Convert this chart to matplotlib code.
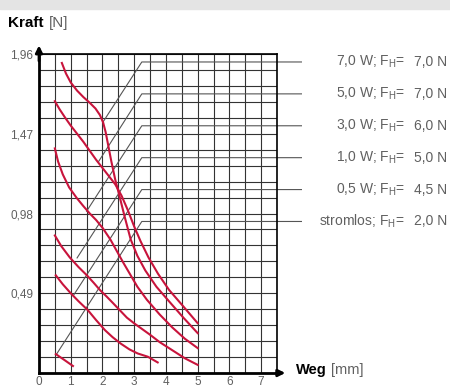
import numpy as np
import matplotlib
matplotlib.use("Agg")
import matplotlib.pyplot as plt
from matplotlib.patches import Rectangle

plt.rcParams['font.family'] = ['Liberation Sans', 'DejaVu Sans']

# force curves (Weg in mm, Kraft in N)
c7_x = [0.72, 0.85, 1.0, 1.2, 1.4, 1.6, 1.78, 1.92, 2.02, 2.1, 2.18, 2.28, 2.4, 2.52,
        2.7, 2.89, 3.1, 3.35, 3.7, 4.1, 4.55, 5.0]
c7_y = [1.905, 1.84, 1.785, 1.735, 1.695, 1.66, 1.625, 1.585, 1.54, 1.48, 1.40, 1.30,
        1.19, 1.10, 0.96, 0.82, 0.72, 0.63, 0.53, 0.44, 0.34, 0.245]
c5_x = [0.50, 0.65, 0.82, 1.0, 1.2, 1.4, 1.6, 1.8, 2.0, 2.2, 2.4, 2.6, 2.8, 3.0, 3.2,
        3.45, 3.75, 4.1, 4.5, 5.0]
c5_y = [1.67, 1.62, 1.57, 1.52, 1.47, 1.42, 1.365, 1.31, 1.26, 1.21, 1.16, 1.09, 1.0,
        0.90, 0.81, 0.71, 0.61, 0.51, 0.42, 0.306]
c3_x = [0.50, 0.6, 0.75, 0.95, 1.19, 1.4, 1.6, 1.8, 2.01, 2.25, 2.45, 2.65, 2.86, 3.1,
        3.4, 3.8, 4.2, 4.6, 5.0]
c3_y = [1.38, 1.30, 1.22, 1.14, 1.075, 1.025, 0.98, 0.94, 0.89, 0.82, 0.75, 0.68, 0.61,
        0.53, 0.45, 0.36, 0.28, 0.21, 0.153]
c1_x = [0.50, 0.7, 0.97, 1.25, 1.51, 1.72, 1.92, 2.13, 2.33, 2.55, 2.77, 3.0, 3.25, 3.5,
        3.8, 4.2, 4.6, 5.0]
c1_y = [0.845, 0.78, 0.71, 0.65, 0.60, 0.555, 0.51, 0.47, 0.43, 0.385, 0.34, 0.305, 0.27,
        0.235, 0.19, 0.14, 0.09, 0.05]
c05_x = [0.53, 0.75, 1.0, 1.25, 1.54, 1.8, 2.08, 2.32, 2.58, 2.85, 3.11, 3.43, 3.74]
c05_y = [0.60, 0.545, 0.49, 0.44, 0.386, 0.325, 0.263, 0.22, 0.18, 0.145, 0.12, 0.10, 0.065]
c0_x = [0.53, 0.8, 1.07]
c0_y = [0.116, 0.08, 0.043]

curves = [(c7_x, c7_y), (c5_x, c5_y), (c3_x, c3_y), (c1_x, c1_y), (c05_x, c05_y), (c0_x, c0_y)]

# legend entries
powers = ["7,0 W;", "5,0 W;", "3,0 W;", "1,0 W;", "0,5 W;", "stromlos;"]
forces = ["7,0 N", "7,0 N", "6,0 N", "5,0 N", "4,5 N", "2,0 N"]
# leader lines: lower start on the curve, upper corner level
diag_x0 = [2.02, 1.88, 1.5, 1.2, 1.08, 0.55]
diag_y0 = [1.543, 1.30, 0.994, 0.707, 0.475, 0.115]
levels = [1.911, 1.715, 1.519, 1.323, 1.127, 0.931]
corner_x = 3.24
leader_end = 8.27

fig = plt.figure(figsize=(4.5, 3.88), dpi=100)
fig.patches.append(Rectangle((0, 0.978), 1, 0.022, transform=fig.transFigure,
                             color="#e4e4e4", zorder=0))
ax = fig.add_axes([39 / 450, 15 / 388, 238 / 450, 319 / 388])
ax.set_xlim(0, 7.5)
ax.set_ylim(0, 1.96)

ax.set_xticks(range(0, 8))
ax.set_xticks(np.arange(0, 7.51, 0.5), minor=True)
ax.set_yticks([0.49, 0.98, 1.47, 1.96])
ax.set_yticklabels(["0,49", "0,98", "1,47", "1,96"])
ax.set_yticks(np.arange(0, 1.961, 0.098), minor=True)
ax.tick_params(which="both", length=0, labelsize=8.5, colors="#606060")
ax.tick_params(axis="x", pad=2.5)
ax.tick_params(axis="y", pad=4)
ax.grid(which="both", color="#333333", lw=0.8)
ax.set_axisbelow(True)

for s in ["top", "right"]:
    ax.spines[s].set_linewidth(1.2)
for s in ["left", "bottom"]:
    ax.spines[s].set_linewidth(2.0)

# gray leader lines
for x0, y0, lv in zip(diag_x0, diag_y0, levels):
    ax.plot([x0, corner_x, leader_end], [y0, lv, lv], color="#555555", lw=0.8,
            clip_on=False, zorder=2)

for cx, cy in curves:
    ax.plot(cx, cy, color="#c8143c", lw=1.5, zorder=3)

for p, f, lv in zip(powers, forces, levels):
    ax.text(11.53, lv, p + r" F$_\mathregular{H}$=", ha="right", va="center",
            fontsize=10, color="#606060", clip_on=False)
    ax.text(12.86, lv, f, ha="right", va="center", fontsize=10,
            color="#606060", clip_on=False)

# axis arrows
ax.annotate("", xy=(0, 2.03), xytext=(0, 1.9), annotation_clip=False,
            arrowprops=dict(arrowstyle="-|>", color="black", lw=2, mutation_scale=10))
ax.annotate("", xy=(7.85, 0), xytext=(7.4, 0), annotation_clip=False,
            arrowprops=dict(arrowstyle="-|>", color="black", lw=2, mutation_scale=10))

fig.text(8 / 450, 1 - 23 / 388, "Kraft", fontsize=11, fontweight="bold", va="center")
fig.text(49 / 450, 1 - 23 / 388, "[N]", fontsize=11, color="#606060", va="center")
fig.text(296 / 450, 1 - 370 / 388, "Weg", fontsize=10.5, fontweight="bold", va="center")
fig.text(331 / 450, 1 - 370 / 388, "[mm]", fontsize=10.5, color="#606060", va="center")

fig.savefig("out.png", dpi=100)
